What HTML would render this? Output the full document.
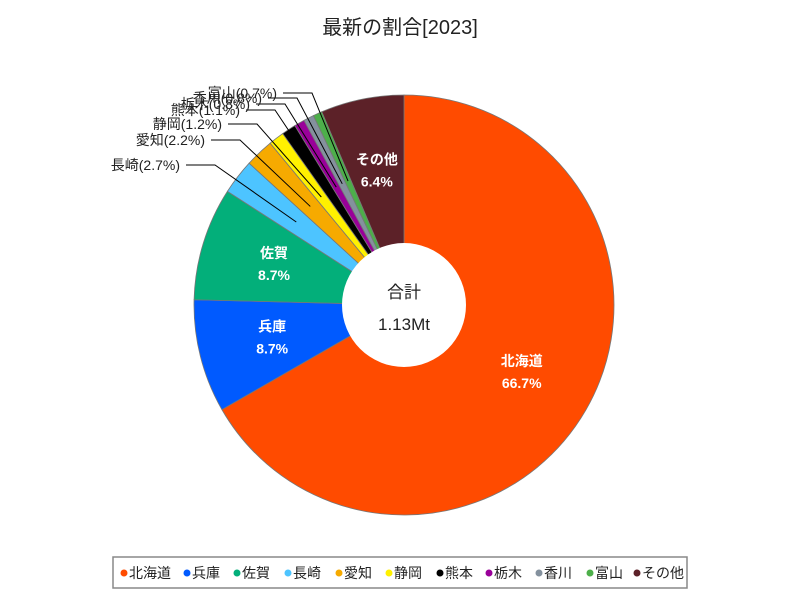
<!DOCTYPE html>
<html><head><meta charset="utf-8"><style>
body{margin:0;background:#fff;font-family:"Liberation Sans","Noto Sans CJK JP",sans-serif;}
</style></head><body>
<svg id="c" width="800" height="600" xmlns="http://www.w3.org/2000/svg">
<rect width="800" height="600" fill="#fff"/>
<text x="400" y="34" text-anchor="middle" font-size="20" fill="#222" font-family="Liberation Sans,Noto Sans CJK JP,sans-serif">最新の割合[2023]</text>
<g id="slices"></g><g id="labels"></g>
<circle cx="404" cy="305" r="62" fill="#fff"/>
<text x="404" y="298" text-anchor="middle" font-size="17" fill="#222">合計</text>
<text x="404" y="330" text-anchor="middle" font-size="17" fill="#222">1.13Mt</text>
<rect x="113" y="557" width="574" height="31" fill="#fff" stroke="#888" stroke-width="1.5"/>
<g id="legend"></g>
</svg>
<script>
const categories=["北海道","兵庫","佐賀","長崎","愛知","静岡","熊本","栃木","香川","富山","その他"];
const values=[66.7,8.7,8.7,2.7,2.2,1.2,1.1,0.8,0.8,0.7,6.4];
const colors=["#ff4b00","#005aff","#03af7a","#4dc4ff","#f6aa00","#fff100","#000000","#990099","#84919e","#4daf4a","#5c2128"];
const NS="http://www.w3.org/2000/svg";
const cx=404,cy=305,R=210,r0=62;
const total=values.reduce((a,b)=>a+b,0);
function pt(a,rr){return [cx+rr*Math.sin(a),cy-rr*Math.cos(a)];}
const sg=document.getElementById('slices'),lg=document.getElementById('labels');
let acc=0;
const outside=[];
values.forEach((v,i)=>{
 const a0=acc/total*2*Math.PI;acc+=v;const a1=acc/total*2*Math.PI;
 const p0=pt(a0,R),p1=pt(a1,R),large=(a1-a0)>Math.PI?1:0;
 const p=document.createElementNS(NS,'path');
 p.setAttribute('d',`M${cx},${cy}L${p0[0]},${p0[1]}A${R},${R} 0 ${large} 1 ${p1[0]},${p1[1]}Z`);
 p.setAttribute('fill',colors[i]);p.setAttribute('stroke','#777');p.setAttribute('stroke-width','0.8');
 
 
 sg.appendChild(p);
 const am=(a0+a1)/2,m=pt(am,136);
 if(v>=5){
  const t=document.createElementNS(NS,'text');
  t.setAttribute('x',m[0]);t.setAttribute('y',m[1]-7);t.setAttribute('text-anchor','middle');
  t.setAttribute('fill','#fff');t.setAttribute('font-weight','bold');t.setAttribute('font-size','14');
  
  
  t.innerHTML=`<tspan x="${m[0]}">${categories[i]}</tspan><tspan x="${m[0]}" dy="22">${v.toFixed(1)}%</tspan>`;
  lg.appendChild(t);
 } else outside.push({i,v,m});
});
// outside labels, stacked upward
const ly=[165,140,124,110,104,98,93];
const lx=[180,205,222,240,250,262,277];
outside.forEach((o,k)=>{
 const y=ly[k],x=lx[k];
 const l=document.createElementNS(NS,'polyline');
 l.setAttribute('points',`${x+6},${y} ${x+35},${y} ${o.m[0]},${o.m[1]}`);
 l.setAttribute('fill','none');l.setAttribute('stroke','#000');l.setAttribute('stroke-width','1');
 
 
 lg.appendChild(l);
 const t=document.createElementNS(NS,'text');
 t.setAttribute('x',x);t.setAttribute('y',y+5);t.setAttribute('text-anchor','end');t.setAttribute('font-size','14');t.setAttribute('fill','#222');
 
 
 t.textContent=`${categories[o.i]}(${o.v.toFixed(1)}%)`;
 lg.appendChild(t);
});
const leg=document.getElementById('legend');
const legX=[124,187,237,288,339,389,440,489,539,590,637];
categories.forEach((c,i)=>{
 const g=document.createElementNS(NS,'g');
 
 
 g.innerHTML=`<circle cx="${legX[i]}" cy="573" r="3.5" fill="${colors[i]}"/><text x="${legX[i]+5}" y="578" font-size="14" fill="#222">${c}</text>`;
 leg.appendChild(g);
});
</script>
</body></html>
